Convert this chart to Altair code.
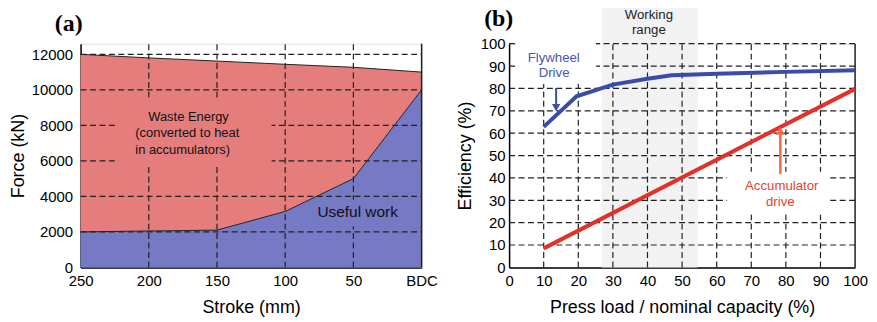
import altair as alt
import pandas as pd

# ---------------- Panel (a) data ----------------
stroke = [250, 200, 150, 100, 50, 0]
press_force = [12000, 11800, 11620, 11440, 11270, 11000]
useful_force = [2000, 2050, 2100, 3150, 5000, 10000]
a_xgrid = [200, 150, 100, 50]
a_ygrid = [2000, 4000, 6000, 8000, 10000, 12000]
a_yticks = [0, 2000, 4000, 6000, 8000, 10000, 12000]
a_xticks = [250, 200, 150, 100, 50, 0]

# ---------------- Panel (b) data ----------------
fly_load = [10, 19.5, 30, 40, 47, 60, 80, 100]
fly_eff = [62.8, 76.5, 81.7, 84.3, 85.9, 86.6, 87.4, 88.1]
acc_load = [10, 100]
acc_eff = [8.5, 79.8]
b_ticks = [0, 10, 20, 30, 40, 50, 60, 70, 80, 90, 100]
b_grid = [10, 20, 30, 40, 50, 60, 70, 80, 90]
working_range = [26.7, 54.5]

FONT = "Liberation Sans"
RED_AREA = "#e57d7d"
BLUE_AREA = "#7679c3"
BLUE = "#3b4ba8"
RED = "#e2312a"
RED_ARROW = "#f26b4a"
BLUE_TXT = "#4657b5"
RED_TXT = "#e8412f"
DASH = [6, 3.5]

W_A, H_A = 343, 225
W_B, H_B = 348, 225
A_TOP = 12600

xa_scale = alt.Scale(domain=[0, 250], reverse=True, nice=False)
ya_scale = alt.Scale(domain=[0, A_TOP], nice=False)
xb_scale = alt.Scale(domain=[0, 100], nice=False)
yb_scale = alt.Scale(domain=[0, 100], nice=False)

common = dict(grid=False, ticks=False, domainColor="black", domainWidth=1.5,
              labelFont=FONT, labelFontSize=15, labelColor="black", titleFont=FONT,
              titleFontSize=18, titleFontWeight="normal", titleColor="black",
              labelOverlap=False)

xa_axis = alt.Axis(values=a_xticks, labelExpr="datum.value == 0 ? 'BDC' : datum.label",
                   title="Stroke (mm)", labelPadding=6, titlePadding=10, labelFlush=False,
                   **common)
ya_axis = alt.Axis(values=a_yticks, title="Force (kN)", labelPadding=8, titlePadding=4,
                   format="d", **common)
xb_axis = alt.Axis(values=b_ticks, title="Press load / nominal capacity (%)",
                   labelPadding=6, titlePadding=10, labelFlush=False, **common)
yb_axis = alt.Axis(values=b_ticks, title="Efficiency (%)", labelPadding=4, titlePadding=6,
                   **common)


def XA(f):
    return alt.X(f, scale=xa_scale, axis=xa_axis)


def YA(f):
    return alt.Y(f, scale=ya_scale, axis=ya_axis)


def XB(f):
    return alt.X(f, scale=xb_scale, axis=xb_axis)


def YB(f):
    return alt.Y(f, scale=yb_scale, axis=yb_axis)


df_a = pd.DataFrame({"stroke": stroke, "press": press_force, "useful": useful_force})
df_a["zero"] = 0

red_area = alt.Chart(df_a).mark_area(color=RED_AREA, opacity=1).encode(
    x=XA("stroke:Q"), y=YA("press:Q"), y2="useful:Q")
blue_area = alt.Chart(df_a).mark_area(color=BLUE_AREA, opacity=1).encode(
    x=XA("stroke:Q"), y=YA("useful:Q"), y2="zero:Q")
top_line = alt.Chart(df_a).mark_line(color="#222", strokeWidth=1).encode(
    x=XA("stroke:Q"), y=YA("press:Q"))
use_line = alt.Chart(df_a).mark_line(color="#222", strokeWidth=1).encode(
    x=XA("stroke:Q"), y=YA("useful:Q"))

vgrid_a = alt.Chart(pd.DataFrame({"x": a_xgrid, "y0": 0, "y1": A_TOP})).mark_rule(
    color="#222", strokeWidth=1.2, strokeDash=DASH).encode(
    x=XA("x:Q"), y=YA("y0:Q"), y2="y1:Q")
hgrid_a = alt.Chart(pd.DataFrame({"y": a_ygrid, "x0": 250, "x1": 0})).mark_rule(
    color="#222", strokeWidth=1.2, strokeDash=DASH).encode(
    y=YA("y:Q"), x=XA("x0:Q"), x2="x1:Q")
rborder_a = alt.Chart(pd.DataFrame({"x": [0], "y0": [0], "y1": [A_TOP]})).mark_rule(
    color="#222", strokeWidth=1.5).encode(
    x=XA("x:Q"), y=YA("y0:Q"), y2="y1:Q")

box_a = pd.DataFrame({"x": [224.5, 76.5], "x2": [110, 17.5], "y": [9417, 3812],
                      "y2": [5661, 2298], "c": [RED_AREA, BLUE_AREA]})
boxes_a = alt.Chart(box_a).mark_rect().encode(
    x=XA("x:Q"), x2="x2:Q", y=YA("y:Q"), y2="y2:Q",
    color=alt.Color("c:N", scale=None))

txt_a = pd.DataFrame({
    "x": [200.4, 209.9, 209.9],
    "y": [8464, 7567, 6614],
    "t": ["Waste Energy", "(converted to heat", "in accumulators)"]})
texts_a = alt.Chart(txt_a).mark_text(font=FONT, fontSize=13, align="left",
                                     baseline="middle", color="#111").encode(
    x=XA("x:Q"), y=YA("y:Q"), text="t:N")
useful_txt = alt.Chart(pd.DataFrame({"x": [46.9], "y": [3139], "t": ["Useful work"]})).mark_text(
    font=FONT, fontSize=15.5, align="center", baseline="middle", color="#111").encode(
    x=XA("x:Q"), y=YA("y:Q"), text="t:N")
lab_a = alt.Chart(pd.DataFrame({"x": [258.7], "y": [13720], "t": ["(a)"]})).mark_text(
    font="Liberation Serif", fontSize=24, fontWeight="bold", align="center",
    baseline="middle", color="black").encode(
    x=XA("x:Q"), y=YA("y:Q"), text="t:N")

chart_a = alt.layer(red_area, blue_area, top_line, use_line, vgrid_a, hgrid_a, rborder_a,
                    boxes_a, texts_a, useful_txt, lab_a).properties(width=W_A, height=H_A)

# ---------------- Panel (b) ----------------
shade = alt.Chart(pd.DataFrame({"x": [working_range[0]], "x2": [working_range[1]],
                                "y": [0], "y2": [118]})).mark_rect(color="#f2f2f2").encode(
    x=XB("x:Q"), x2="x2:Q", y=YB("y:Q"), y2="y2:Q")
vgrid_b = alt.Chart(pd.DataFrame({"x": b_grid, "y0": 0, "y1": 100})).mark_rule(
    color="#222", strokeWidth=1.2, strokeDash=DASH).encode(
    x=XB("x:Q"), y=YB("y0:Q"), y2="y1:Q")
hgrid_b = alt.Chart(pd.DataFrame({"y": b_grid + [100], "x0": 0, "x1": 100})).mark_rule(
    color="#222", strokeWidth=1.2, strokeDash=DASH).encode(
    y=YB("y:Q"), x=XB("x0:Q"), x2="x1:Q")
rborder_b = alt.Chart(pd.DataFrame({"x": [100], "y0": [0], "y1": [100]})).mark_rule(
    color="#222", strokeWidth=1.5).encode(
    x=XB("x:Q"), y=YB("y0:Q"), y2="y1:Q")

box_b = pd.DataFrame({"x": [2.0, 63], "x2": [25.1, 92.3], "y": [82, 23.6], "y2": [101, 42.7]})
boxes_b = alt.Chart(box_b).mark_rect(color="white").encode(
    x=XB("x:Q"), x2="x2:Q", y=YB("y:Q"), y2="y2:Q")

df_fly = pd.DataFrame({"load": fly_load, "eff": fly_eff})
df_acc = pd.DataFrame({"load": acc_load, "eff": acc_eff})
fly_line = alt.Chart(df_fly).mark_line(color=BLUE, strokeWidth=4).encode(
    x=XB("load:Q"), y=YB("eff:Q"))
acc_line = alt.Chart(df_acc).mark_line(color=RED, strokeWidth=4).encode(
    x=XB("load:Q"), y=YB("eff:Q"))

# arrows
arr_blue = alt.Chart(pd.DataFrame({"x": [13.6], "y": [80.2], "y2": [72.5]})).mark_rule(
    color=BLUE, strokeWidth=2).encode(x=XB("x:Q"), y=YB("y:Q"), y2="y2:Q")
head_blue = alt.Chart(pd.DataFrame({"x": [13.6], "y": [71.4]})).mark_point(
    shape="triangle-down", filled=True, color=BLUE, size=70, opacity=1).encode(
    x=XB("x:Q"), y=YB("y:Q"))
arr_red = alt.Chart(pd.DataFrame({"x": [78.4], "y": [41.7], "y2": [60]})).mark_rule(
    color=RED_ARROW, strokeWidth=2.5).encode(x=XB("x:Q"), y=YB("y:Q"), y2="y2:Q")
head_red = alt.Chart(pd.DataFrame({"x": [78.4], "y": [61.0]})).mark_point(
    shape="triangle-up", filled=True, color=RED_ARROW, size=80, opacity=1).encode(
    x=XB("x:Q"), y=YB("y:Q"))

txt_b = pd.DataFrame({
    "x": [12.9, 13.0, 78.8, 78.4, 40.4, 40.4],
    "y": [93.8, 87.1, 36.5, 29.2, 112.6, 105.9],
    "t": ["Flywheel", "Drive", "Accumulator", "drive", "Working", "range"],
    "c": [BLUE_TXT, BLUE_TXT, RED_TXT, RED_TXT, "#222", "#222"]})
texts_b = alt.Chart(txt_b).mark_text(font=FONT, fontSize=13.3, align="center",
                                     baseline="middle").encode(
    x=XB("x:Q"), y=YB("y:Q"), text="t:N", color=alt.Color("c:N", scale=None))
lab_b = alt.Chart(pd.DataFrame({"x": [-3.0], "y": [110.8], "t": ["(b)"]})).mark_text(
    font="Liberation Serif", fontSize=24, fontWeight="bold", align="center",
    baseline="middle", color="black").encode(
    x=XB("x:Q"), y=YB("y:Q"), text="t:N")

chart_b = alt.layer(shade, vgrid_b, hgrid_b, rborder_b, boxes_b, fly_line, acc_line,
                    arr_blue, head_blue, arr_red, head_red, texts_b, lab_b).properties(
    width=W_B, height=H_B)

chart = alt.hconcat(chart_a, chart_b, spacing=17).properties(
    padding={"left": 0, "top": -6, "right": 0, "bottom": 0}
).configure_view(stroke=None).configure_axis(labelOverlap=False).configure(background="white")

chart.save("out.html", embed_options={"renderer": "svg", "actions": False})
